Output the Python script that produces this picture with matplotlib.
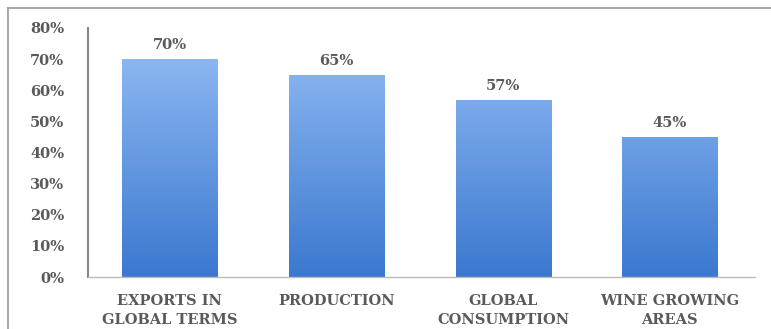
import numpy as np
import matplotlib.pyplot as plt
from matplotlib.colors import LinearSegmentedColormap
from matplotlib.lines import Line2D

categories = ['EXPORTS IN\nGLOBAL TERMS', 'PRODUCTION', 'GLOBAL\nCONSUMPTION', 'WINE GROWING\nAREAS']
values = [0.70, 0.65, 0.57, 0.45]
yticks = [0, 0.1, 0.2, 0.3, 0.4, 0.5, 0.6, 0.7, 0.8]

text_color = '#5a5a5a'
font = 'DejaVu Serif'

fig = plt.figure(figsize=(7.71, 3.29), dpi=100)
ax = fig.add_axes([0.1141, 0.158, 0.865, 0.757])

# frame around the picture (top and left edges)
fig.add_artist(Line2D([0.0104, 1.0], [0.976, 0.976], transform=fig.transFigure, color='#9a9a9a', lw=1.2))
fig.add_artist(Line2D([0.0104, 0.0104], [0.0, 0.976], transform=fig.transFigure, color='#9a9a9a', lw=1.2))

x = np.arange(len(categories))
bars = ax.bar(x, values, width=0.57, color='none', edgecolor='none')

cmap = LinearSegmentedColormap.from_list('blu', ['#3b78cf', '#96bff6'])
grad = np.linspace(0, 1, 256).reshape(-1, 1)
for b, v in zip(bars, values):
    x0 = b.get_x()
    im = ax.imshow(grad, cmap=cmap, origin='lower', aspect='auto',
                   extent=[x0, x0 + b.get_width(), 0, 0.8], zorder=2)
    im.set_clip_path(b)
    ax.annotate(f'{int(round(v * 100))}%', (b.get_x() + b.get_width() / 2, v),
                xytext=(0, 5), textcoords='offset points', ha='center', va='bottom',
                fontsize=10.5, fontweight='bold', color=text_color, family=font)

ax.set_xlim(-0.49, 3.51)
ax.set_ylim(0, 0.8)
ax.set_yticks(yticks)
ax.set_yticklabels([f'{int(round(t * 100))}%' for t in yticks])
ax.set_xticks(x)
ax.set_xticklabels(categories, linespacing=1.45)

for lbl in ax.get_xticklabels() + ax.get_yticklabels():
    lbl.set_fontsize(10.5)
    lbl.set_fontweight('bold')
    lbl.set_color(text_color)
    lbl.set_family(font)

ax.tick_params(axis='both', length=0)
ax.tick_params(axis='y', pad=17)
ax.tick_params(axis='x', pad=12)

for s in ['top', 'right']:
    ax.spines[s].set_visible(False)
ax.spines['left'].set_color('#888888')
ax.spines['left'].set_linewidth(1.5)
ax.spines['bottom'].set_color('#bbbbbb')
ax.spines['bottom'].set_linewidth(1.0)

fig.savefig('out.png', dpi=100)
